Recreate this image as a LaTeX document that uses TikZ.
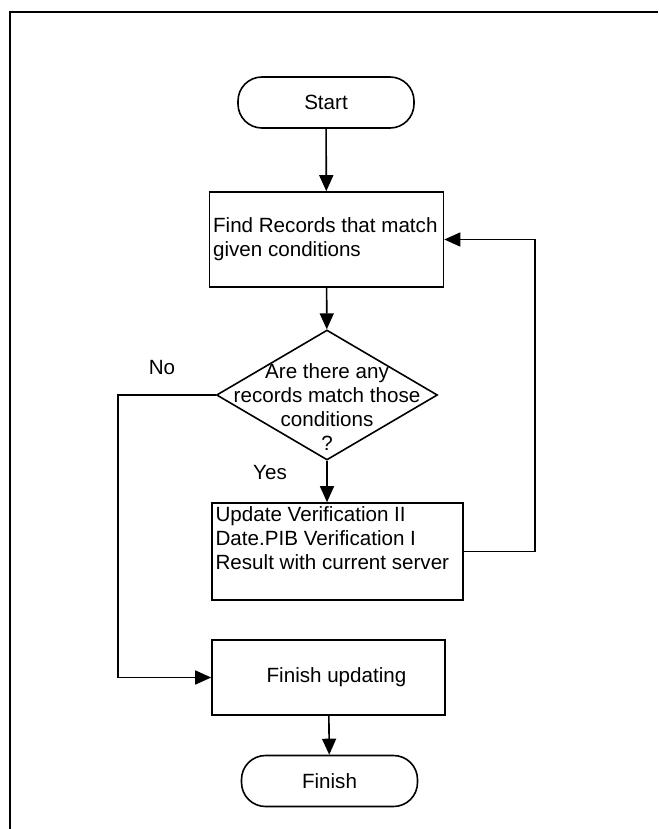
\documentclass[tikz,border=0pt]{standalone}
\usepackage{fontspec}
\setmainfont{Liberation Sans}
\usetikzlibrary{shapes}
\usetikzlibrary{arrows.meta}

\begin{document}
\begin{tikzpicture}[x=0.5pt, y=-0.5pt, font=\fontsize{10.3}{12}\selectfont,
    term/.style={draw, line width=0.8pt, rounded corners=12pt,
      minimum width=88pt, minimum height=25.5pt},
    box/.style={draw, line width=0.8pt, inner sep=0pt},
    decision/.style={draw, line width=0.8pt, diamond, inner sep=0pt,
      minimum width=110.5pt, minimum height=65pt},
    arr/.style={line width=0.8pt, -{Triangle[length=8pt,width=7pt]}}]
    \useasboundingbox (0,0) rectangle (658,829);
    \draw[line width=1pt] (10,829) -- (10,12) -- (658,12);

    \node[term] (start) at (326,102.5) {Start};
    \node[box, minimum width=117pt, minimum height=47.5pt,
      label={[anchor=west, align=left, inner sep=2pt]west:%
      Find Records that match\\given conditions}] (find) at (326.5,239.5) {};
    \node[decision, label={[align=center, yshift=-6pt]center:Are there any\\
      records match those\\conditions\\?}] (check) at (327,395) {};
    \node (no) at (162,368) {No};
    \node (yes) at (270,473) {Yes};
    \node[box, minimum width=125.5pt, minimum height=48.5pt,
      label={[anchor=north west, align=left, inner sep=2pt]north west:%
      Update Verification II\\Date.PIB Verification I\\Result with current server}]
      (update) at (337.5,551.5) {};
    \node[box, minimum width=116.5pt, minimum height=37.5pt,
      label={[xshift=4pt]center:Finish updating}] (finupd) at (328.5,677.5) {};
    \node[term] (finish) at (329.5,781) {Finish};

    \draw[arr] (start) -- (find);
    \draw[arr] (find) -- (check);
    \draw[arr] (check.south) -- (check.south |- update.north);
    \draw[arr] (finupd) -- (finish);

    \coordinate (noturn) at (118,395);
    \draw[arr] (check.west) -- (noturn) |- (finupd.west);
    \coordinate (loopturn) at (535,551.5);
    \draw[arr] (update.east) -- (loopturn) |- (find.east);
  \end{tikzpicture}
\end{document}
